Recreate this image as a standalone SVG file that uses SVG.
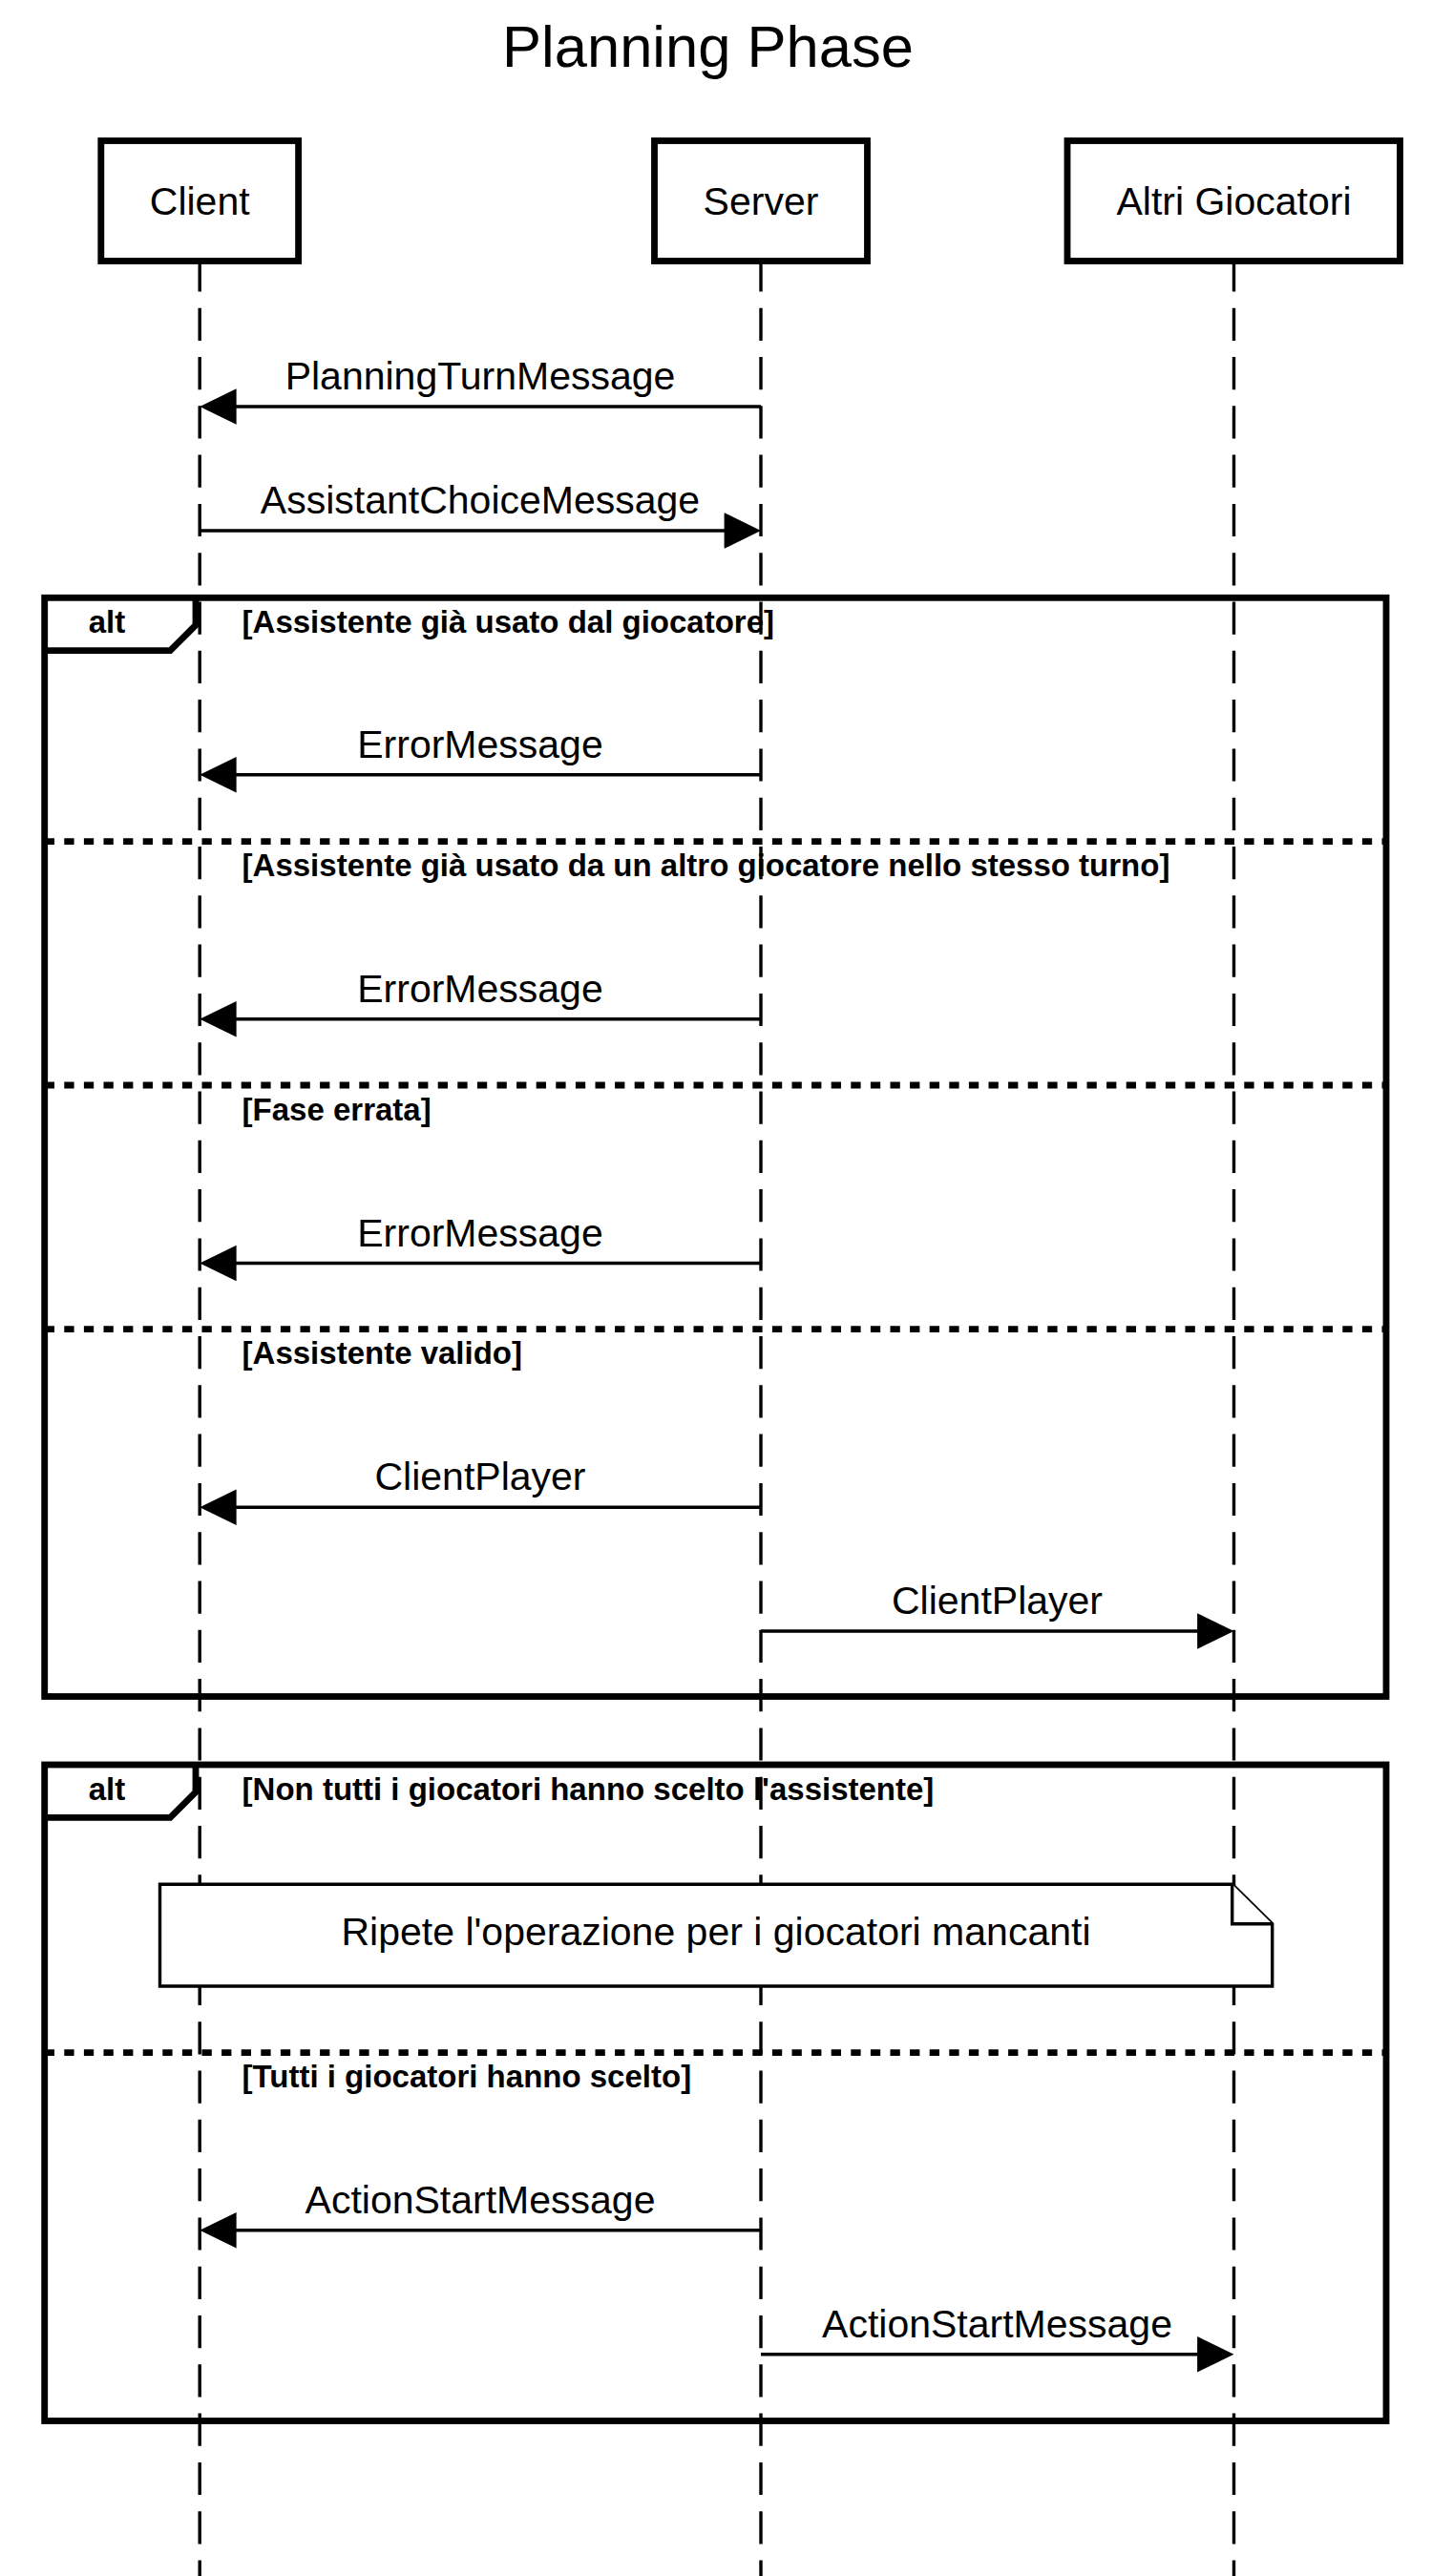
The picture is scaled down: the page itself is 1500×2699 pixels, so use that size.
<svg xmlns="http://www.w3.org/2000/svg" width="1500" height="2699" viewBox="0 0 1500 2699">
<style>
text{font-family:"Liberation Sans",Arial,Helvetica,sans-serif;fill:#000}
.title{font-size:61.5px;text-anchor:middle}
.ptext{font-size:41px;text-anchor:middle}
.mtext{font-size:41px;text-anchor:middle}
.cond{font-size:33px;font-weight:bold}
.altt{font-size:33px;font-weight:bold;text-anchor:middle}
.lifeline{stroke:#000;stroke-width:3.4;stroke-dasharray:34.2 17.1;fill:none}
.box{fill:#fff;stroke:#000;stroke-width:6.84}
.msg{stroke:#000;stroke-width:3.4;fill:none}
.head{fill:#000;stroke:none}
.frame{fill:none;stroke:#000;stroke-width:6.84}
.sep{stroke:#000;stroke-width:6.84;stroke-dasharray:10.3 10.3;fill:none}
.note{fill:#fff;stroke:#000;stroke-width:3.4;stroke-linejoin:miter}
</style>
<rect width="1500" height="2699" fill="#fff"/>
<text class="title" x="741.5" y="70">Planning Phase</text>

<g id="lifelines">
<line class="lifeline" x1="209.2" y1="271.4" x2="209.2" y2="2699"/>
<line class="lifeline" x1="797" y1="271.4" x2="797" y2="2699"/>
<line class="lifeline" x1="1292.5" y1="271.4" x2="1292.5" y2="2699"/>
</g>

<g id="client">
<rect class="box" x="105.8" y="147.5" width="206.8" height="126"/>
<text class="ptext" x="209.2" y="225">Client</text>
</g>
<g id="server">
<rect class="box" x="685.5" y="147.5" width="223" height="126"/>
<text class="ptext" x="797" y="225">Server</text>
</g>
<g id="altri">
<rect class="box" x="1118" y="147.5" width="348.5" height="126"/>
<text class="ptext" x="1292.5" y="225">Altri Giocatori</text>
</g>

<g id="frame1">
<rect class="frame" x="46.7" y="626.3" width="1405.3" height="1151.2"/>
<path class="frame" d="M46.7,681.7 H178.3 L205,655 V626.3"/>
<text class="altt" x="112" y="663">alt</text>
<text class="cond" x="253.6" y="663">[Assistente già usato dal giocatore]</text>
<line class="sep" x1="46.7" y1="881.7" x2="1452" y2="881.7"/>
<text class="cond" x="253.6" y="918.4">[Assistente già usato da un altro giocatore nello stesso turno]</text>
<line class="sep" x1="46.7" y1="1137" x2="1452" y2="1137"/>
<text class="cond" x="253.6" y="1173.7">[Fase errata]</text>
<line class="sep" x1="46.7" y1="1392.7" x2="1452" y2="1392.7"/>
<text class="cond" x="253.6" y="1429.4">[Assistente valido]</text>
</g>

<g id="frame2">
<rect class="frame" x="46.7" y="1849" width="1405.3" height="687.5"/>
<path class="frame" d="M46.7,1904.4 H178.3 L205,1877.7 V1849"/>
<text class="altt" x="112" y="1885.7">alt</text>
<text class="cond" x="253.6" y="1885.7">[Non tutti i giocatori hanno scelto l'assistente]</text>
<line class="sep" x1="46.7" y1="2150.7" x2="1452" y2="2150.7"/>
<text class="cond" x="253.6" y="2187.4">[Tutti i giocatori hanno scelto]</text>
</g>

<g id="note">
<path class="note" d="M167.5,1974.3 H1290.7 L1332.7,2015.7 V2081 H167.5 Z"/>
<path class="note" d="M1290.7,1974.3 V2015.7 H1332.7" fill="none"/>
<text class="mtext" x="750" y="2038">Ripete l'operazione per i giocatori mancanti</text>
</g>

<g id="connectors">
<line class="msg" x1="797" y1="426" x2="230" y2="426"/>
<polygon class="head" points="209.2,426 247.6,407.2 247.6,444.8"/>
<text class="mtext" x="503" y="408">PlanningTurnMessage</text>

<line class="msg" x1="209.2" y1="556" x2="776" y2="556"/>
<polygon class="head" points="797,556 758.6,537.2 758.6,574.8"/>
<text class="mtext" x="503" y="538">AssistantChoiceMessage</text>

<line class="msg" x1="797" y1="811.7" x2="230" y2="811.7"/>
<polygon class="head" points="209.2,811.7 247.6,792.9 247.6,830.5"/>
<text class="mtext" x="503" y="793.7">ErrorMessage</text>

<line class="msg" x1="797" y1="1067.8" x2="230" y2="1067.8"/>
<polygon class="head" points="209.2,1067.8 247.6,1049 247.6,1086.6"/>
<text class="mtext" x="503" y="1049.8">ErrorMessage</text>

<line class="msg" x1="797" y1="1323.5" x2="230" y2="1323.5"/>
<polygon class="head" points="209.2,1323.5 247.6,1304.7 247.6,1342.3"/>
<text class="mtext" x="503" y="1305.5">ErrorMessage</text>

<line class="msg" x1="797" y1="1579.3" x2="230" y2="1579.3"/>
<polygon class="head" points="209.2,1579.3 247.6,1560.5 247.6,1598.1"/>
<text class="mtext" x="503" y="1561.3">ClientPlayer</text>

<line class="msg" x1="797" y1="1709" x2="1270" y2="1709"/>
<polygon class="head" points="1292.5,1709 1254.1,1690.2 1254.1,1727.8"/>
<text class="mtext" x="1044.5" y="1691">ClientPlayer</text>

<line class="msg" x1="797" y1="2336.7" x2="230" y2="2336.7"/>
<polygon class="head" points="209.2,2336.7 247.6,2317.9 247.6,2355.5"/>
<text class="mtext" x="503" y="2318.7">ActionStartMessage</text>

<line class="msg" x1="797" y1="2466.7" x2="1270" y2="2466.7"/>
<polygon class="head" points="1292.5,2466.7 1254.1,2447.9 1254.1,2485.5"/>
<text class="mtext" x="1044.5" y="2448.7">ActionStartMessage</text>
</g>
</svg>
